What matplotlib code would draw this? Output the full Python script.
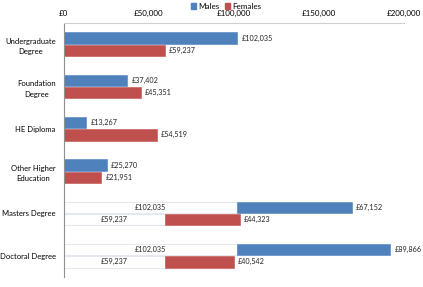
import matplotlib
matplotlib.use("Agg")
import matplotlib.pyplot as plt
import numpy as np

categories = ["Undergraduate\nDegree", "Foundation\nDegree", "HE Diploma",
              "Other Higher\nEducation", "Masters Degree", "Doctoral Degree"]
# base (white) segment, only for the last two rows
males_base = [0, 0, 0, 0, 102035, 102035]
females_base = [0, 0, 0, 0, 59237, 59237]
males = [102035, 37402, 13267, 25270, 67152, 89866]
females = [59237, 45351, 54519, 21951, 44323, 40542]

BLUE = "#4f81bd"
RED = "#c0504d"
plt.rcParams["font.family"] = ["Lato", "DejaVu Sans"]

fig = plt.figure(figsize=(4.23, 2.87), dpi=100)
ax = fig.add_axes([0.151, 0.035, 0.804, 0.885])

y = np.arange(len(categories))
h = 0.27
off = 0.145


def money(v):
    return f"\u00a3{v:,.0f}"


for i in range(len(categories)):
    for base, val, col, dy in ((males_base[i], males[i], BLUE, -off),
                               (females_base[i], females[i], RED, off)):
        yy = y[i] + dy
        if base:
            ax.barh(yy, base, height=h, color="white", edgecolor="#dfe4ec", linewidth=0.6)
            ax.text(base / 2, yy, money(base), ha="center", va="center", fontsize=5.2, color="#222222")
        ax.barh(yy, val, left=base, height=h, color=col, edgecolor=col, linewidth=0.4)
        ax.text(base + val + 2500, yy, money(val), ha="left", va="center",
                fontsize=5.2, color="#222222")

ax.set_xlim(0, 200000)
ax.set_ylim(len(categories) - 0.5, -0.5)
ax.xaxis.tick_top()
ax.set_xticks(np.arange(0, 200001, 50000))
ax.set_xticklabels([money(v) for v in np.arange(0, 200001, 50000)], fontsize=5.8)
ax.tick_params(axis="x", length=0, pad=4)
ax.set_yticks(y)
ax.set_yticklabels(categories, fontsize=5.5, linespacing=1.6, multialignment="center")
ax.tick_params(axis="y", length=0, pad=6)
for s in ("right", "bottom"):
    ax.spines[s].set_visible(False)
ax.spines["top"].set_color("#d0d0d0")
ax.spines["left"].set_color("#909090")
ax.spines["left"].set_linewidth(0.8)

handles = [plt.Rectangle((0, 0), 1, 1, color=BLUE), plt.Rectangle((0, 0), 1, 1, color=RED)]
fig.legend(handles, ["Males", "Females"], loc="upper center", bbox_to_anchor=(0.535, 1.004),
           ncol=2, frameon=False, fontsize=5.8, handlelength=0.6, handleheight=0.6,
           handletextpad=0.3, columnspacing=0.6, borderpad=0)

fig.savefig("out.png", dpi=100)
